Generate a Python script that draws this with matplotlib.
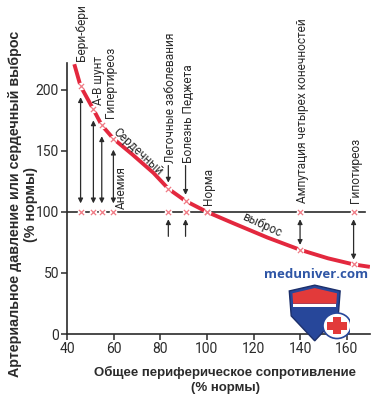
import matplotlib
matplotlib.use("Agg")
import matplotlib.pyplot as plt
from matplotlib.patches import Polygon, Circle, Rectangle

plt.rcParams['font.family'] = ['Roboto', 'DejaVu Sans']

# conditions and their values (% of normal)
conditions = ["Бери-бери", "А-В шунт", "Гипертиреоз", "Анемия",
              "Легочные заболевания", "Болезнь Педжета", "Норма",
              "Ампутация четырех конечностей", "Гипотиреоз"]
resistance = [45.7, 51.2, 54.8, 59.8, 83.4, 90.8, 100, 140, 163]
cardiac_output = [203, 184, 171, 160, 119, 109, 100, 69, 57]
pressure = [100, 100, 100, 100, 100, 100, 100, 100, 100]

# cardiac output curve
curve_x = [43, 45.7, 51.2, 54.8, 59.8, 68, 77, 83.4, 90.8, 100, 111, 126, 140, 152, 163, 170]
curve_y = [221, 203, 184, 171, 160, 147, 132, 119, 109, 100, 91, 79, 69, 62, 57, 55]

x_ticks = [40, 60, 80, 100, 120, 140, 160]
y_ticks = [0, 50, 100, 150, 200]

# layout of the rotated labels: x shift and bottom y (data units)
label_dx = [0.6, 2.1, 3.6, 3.6, 0.8, 1.2, 0.5, 1.0, 0.7]
label_y = [224, 188, 177, 102, 140, 140, 106, 107, 107]
# which kind of arrow goes with each condition
arrow_kind = ["both", "both", "both", "both", "split", "split", "none", "both", "both"]

RED = "#e3283e"
PINK = "#f07a84"
DARK = "#2b2b2b"

fig = plt.figure(figsize=(3.74, 4.0), dpi=100)
ax = fig.add_axes([0.18, 0.165, 0.809, 0.6775])

ax.plot(curve_x, curve_y, color=RED, lw=2.8, solid_capstyle="butt", zorder=3)
ax.plot([40, 168], [100, 100], color=DARK, lw=1.2, zorder=2)

# white gaps under the x markers
ax.scatter(resistance, cardiac_output, s=30, color="white", zorder=4, linewidths=0)
ax.scatter(resistance, pressure, s=30, color="white", zorder=4, linewidths=0)
ax.scatter(resistance, cardiac_output, s=14, marker="x", color=PINK, lw=0.9, zorder=5)
ax.scatter(resistance, pressure, s=14, marker="x", color=PINK, lw=0.9, zorder=5)

arrow_style = dict(arrowstyle="<|-|>", color=DARK, lw=0.9, mutation_scale=7,
                   shrinkA=0, shrinkB=0)
single_style = dict(arrowstyle="-|>", color=DARK, lw=0.9, mutation_scale=7,
                    shrinkA=0, shrinkB=0)

for name, x, co, p, dx, ly, kind in zip(conditions, resistance, cardiac_output,
                                         pressure, label_dx, label_y, arrow_kind):
    ax.text(x + dx, ly, name, rotation=90, ha="center", va="bottom",
            fontsize=8.6, color=DARK, clip_on=False, zorder=6)
    if kind == "both":
        if co > p:
            ax.annotate("", xy=(x, co - 9), xytext=(x, p + 7), arrowprops=arrow_style)
        else:
            ax.annotate("", xy=(x, co + 4), xytext=(x, p - 6), arrowprops=arrow_style)
    elif kind == "split":
        ax.annotate("", xy=(x, co + 5), xytext=(x, ly - 2), arrowprops=single_style)
        ax.annotate("", xy=(x, p - 6), xytext=(x, p - 20), arrowprops=single_style)

ax.text(70.5, 149.5, "Сердечный", rotation=-43, ha="center", va="center",
        fontsize=8.6, color=DARK, zorder=6)
ax.text(123.7, 89, "выброс", rotation=-25, ha="center", va="center",
        fontsize=8.6, color=DARK, zorder=6)

ax.set_xlim(40, 170)
ax.set_ylim(0, 222)
ax.set_xticks(x_ticks)
ax.set_yticks(y_ticks)
ax.tick_params(direction="out", length=4, width=1.1, color=DARK,
               labelsize=10, labelcolor=DARK, pad=2)
for side in ["top", "right"]:
    ax.spines[side].set_visible(False)
for side in ["left", "bottom"]:
    ax.spines[side].set_color(DARK)
    ax.spines[side].set_linewidth(1.2)

fig.text(0.602, 0.05, "Общее периферическое сопротивление\n(% нормы)",
         ha="center", va="center", fontsize=9.5, fontweight="bold",
         family=["Liberation Sans", "DejaVu Sans"], color=DARK, linespacing=1.25)
fig.text(0.062, 0.49, "Артериальное давление или сердечный выброс\n(% нормы)",
         rotation=90, ha="center", va="center", fontsize=10.3, fontweight="bold",
         family=["Liberation Sans", "DejaVu Sans"], color=DARK, linespacing=1.15)

# watermark
fig.text(0.845, 0.315, "meduniver.com", ha="center", va="center", fontsize=9.5,
         fontweight="bold", family=["Open Sans", "DejaVu Sans"], color="#2f56a6")

logo = fig.add_axes([0.765, 0.145, 0.17, 0.145])
logo.set_xlim(0, 1)
logo.set_ylim(0, 1)
logo.axis("off")
logo.add_patch(Polygon([(0.05, 0.88), (0.45, 0.98), (0.85, 0.88), (0.82, 0.45),
                        (0.45, 0.02), (0.08, 0.45)], closed=True,
                       facecolor="#27479a", edgecolor="#1c2f6a", lw=1))
logo.add_patch(Polygon([(0.1, 0.84), (0.45, 0.93), (0.8, 0.84), (0.79, 0.66),
                        (0.11, 0.66)], closed=True, facecolor="#e23a3a", lw=0))
logo.add_patch(Rectangle((0.11, 0.6), 0.68, 0.06, facecolor="white", lw=0))
logo.add_patch(Circle((0.8, 0.28), 0.22, facecolor="white", edgecolor="#27479a", lw=1.2))
logo.add_patch(Rectangle((0.73, 0.13), 0.14, 0.3, facecolor="#e23a3a", lw=0))
logo.add_patch(Rectangle((0.65, 0.21), 0.3, 0.14, facecolor="#e23a3a", lw=0))

fig.savefig("out.png", dpi=100)
